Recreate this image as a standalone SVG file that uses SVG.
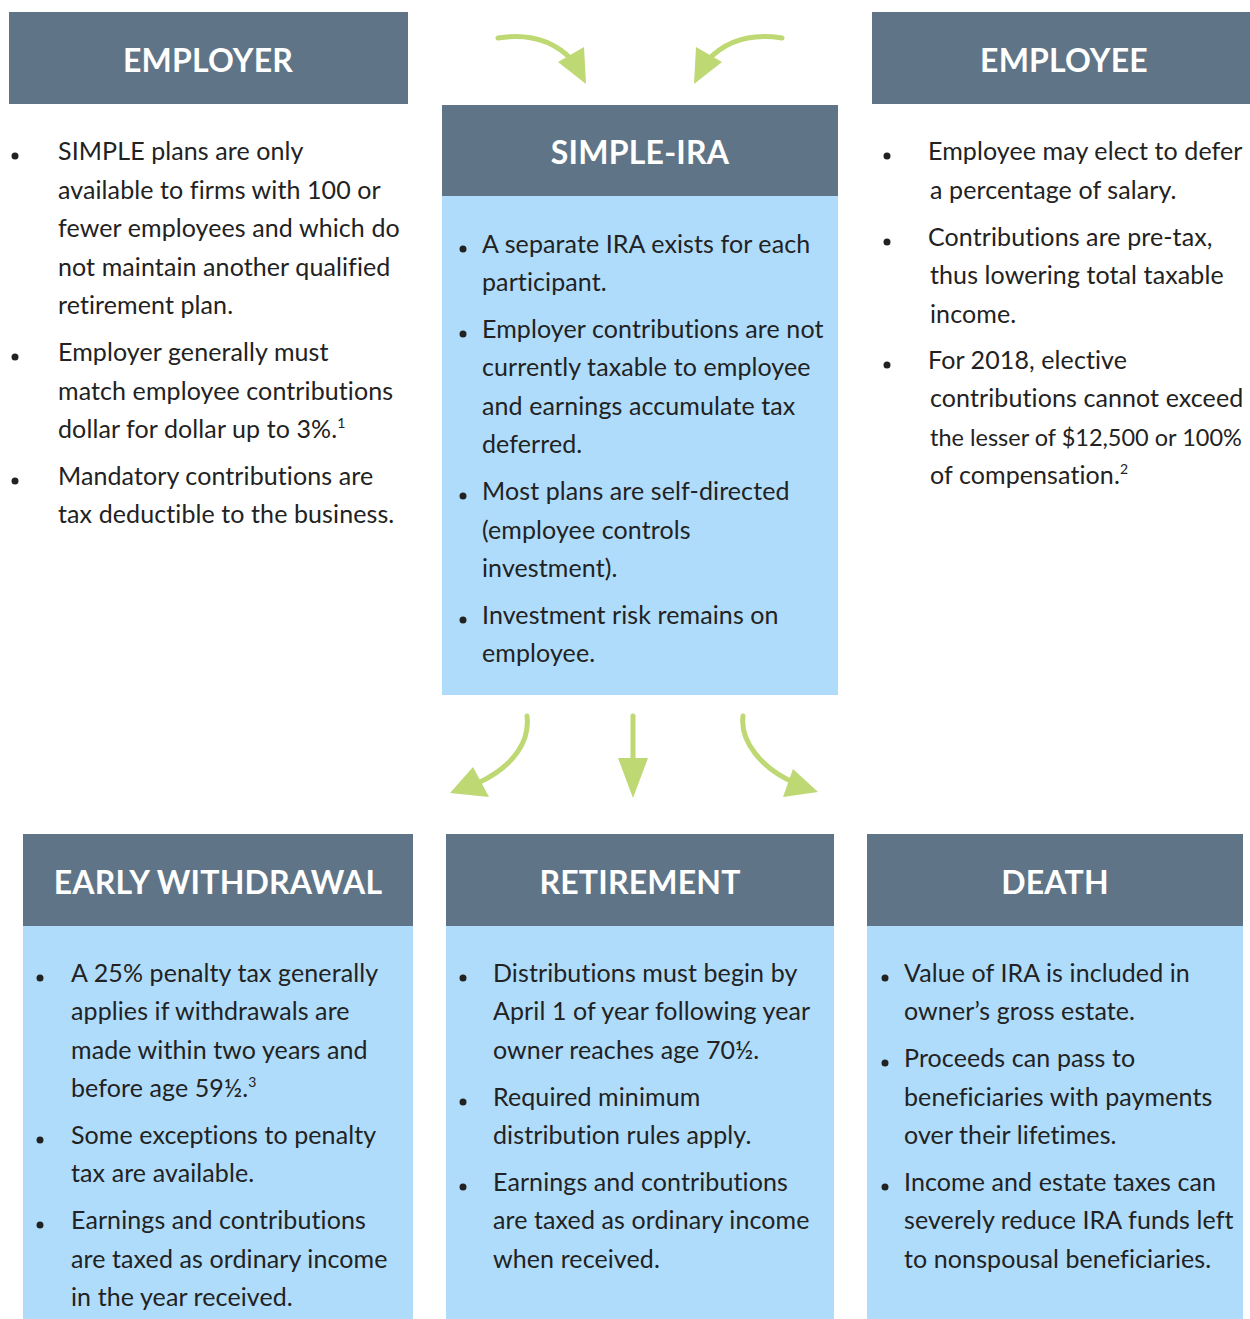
<svg xmlns="http://www.w3.org/2000/svg" width="1250" height="1319" viewBox="0 0 1250 1319">
<style>
.hd{fill:#5f7587}
.bd{fill:#afdcfb}
.tt{font-family:Lato,"Liberation Sans",sans-serif;font-weight:bold;font-size:32px;fill:#ffffff;text-anchor:middle;letter-spacing:0.2px}
.tx{font-family:Lato,"Liberation Sans",sans-serif;font-size:25px;letter-spacing:0.1px;fill:#222222}
.sup{font-size:14px}
.ar{fill:none;stroke:#bed873;stroke-width:5;stroke-linecap:round}
.ah{fill:#bed873}
</style>
<rect width="1250" height="1319" fill="#ffffff"/>
<g id="employer">
<rect class="hd" x="9" y="12" width="399" height="92"/>
<text class="tt" x="208" y="72">EMPLOYER</text>
<circle cx="15" cy="156" r="3.5" fill="#222"/>
<circle cx="15" cy="357" r="3.5" fill="#222"/>
<circle cx="15" cy="481" r="3.5" fill="#222"/>
<text class="tx" x="58" y="160">SIMPLE plans are only</text>
<text class="tx" x="58" y="199">available to firms with 100 or</text>
<text class="tx" x="58" y="237">fewer employees and which do</text>
<text class="tx" x="58" y="276">not maintain another qualified</text>
<text class="tx" x="58" y="314">retirement plan.</text>
<text class="tx" x="58" y="361">Employer generally must</text>
<text class="tx" x="58" y="400">match employee contributions</text>
<text class="tx" x="58" y="438">dollar for dollar up to 3%.<tspan class="sup" dy="-10">1</tspan></text>
<text class="tx" x="58" y="485">Mandatory contributions are</text>
<text class="tx" x="58" y="523">tax deductible to the business.</text>
</g>
<g id="simple-ira">
<rect class="hd" x="442" y="105" width="396" height="92"/>
<rect class="bd" x="442" y="196" width="396" height="499"/>
<text class="tt" x="640" y="164">SIMPLE-IRA</text>
<circle cx="463" cy="249" r="3.5" fill="#222"/>
<circle cx="463" cy="334" r="3.5" fill="#222"/>
<circle cx="463" cy="496" r="3.5" fill="#222"/>
<circle cx="463" cy="620" r="3.5" fill="#222"/>
<text class="tx" x="482" y="253">A separate IRA exists for each</text>
<text class="tx" x="482" y="291">participant.</text>
<text class="tx" x="482" y="338">Employer contributions are not</text>
<text class="tx" x="482" y="376">currently taxable to employee</text>
<text class="tx" x="482" y="415">and earnings accumulate tax</text>
<text class="tx" x="482" y="453">deferred.</text>
<text class="tx" x="482" y="500">Most plans are self-directed</text>
<text class="tx" x="482" y="539">(employee controls</text>
<text class="tx" x="482" y="577">investment).</text>
<text class="tx" x="482" y="624">Investment risk remains on</text>
<text class="tx" x="482" y="662">employee.</text>
</g>
<g id="employee">
<rect class="hd" x="872" y="12" width="378" height="92"/>
<text class="tt" x="1064" y="72">EMPLOYEE</text>
<circle cx="887" cy="156" r="3.5" fill="#222"/>
<circle cx="887" cy="242" r="3.5" fill="#222"/>
<circle cx="887" cy="365" r="3.5" fill="#222"/>
<text class="tx" x="928" y="160">Employee may elect to defer</text>
<text class="tx" x="930" y="199">a percentage of salary.</text>
<text class="tx" x="928" y="246">Contributions are pre-tax,</text>
<text class="tx" x="930" y="284">thus lowering total taxable</text>
<text class="tx" x="930" y="323">income.</text>
<text class="tx" x="928" y="369">For 2018, elective</text>
<text class="tx" x="930" y="407">contributions cannot exceed</text>
<text class="tx" x="930" y="446" style="font-size:23.5px;letter-spacing:0">the lesser of $12,500 or 100%</text>
<text class="tx" x="930" y="484">of compensation.<tspan class="sup" dy="-10">2</tspan></text>
</g>
<g id="early-withdrawal">
<rect class="hd" x="23" y="834" width="390" height="93"/>
<rect class="bd" x="23" y="926" width="390" height="393"/>
<text class="tt" x="218" y="894">EARLY WITHDRAWAL</text>
<circle cx="40" cy="978" r="3.5" fill="#222"/>
<circle cx="40" cy="1140" r="3.5" fill="#222"/>
<circle cx="40" cy="1225" r="3.5" fill="#222"/>
<text class="tx" x="71" y="982">A 25% penalty tax generally</text>
<text class="tx" x="71" y="1020">applies if withdrawals are</text>
<text class="tx" x="71" y="1059">made within two years and</text>
<text class="tx" x="71" y="1097">before age 59½.<tspan class="sup" dy="-10">3</tspan></text>
<text class="tx" x="71" y="1144">Some exceptions to penalty</text>
<text class="tx" x="71" y="1182">tax are available.</text>
<text class="tx" x="71" y="1229">Earnings and contributions</text>
<text class="tx" x="71" y="1268">are taxed as ordinary income</text>
<text class="tx" x="71" y="1306">in the year received.</text>
</g>
<g id="retirement">
<rect class="hd" x="446" y="834" width="388" height="93"/>
<rect class="bd" x="446" y="926" width="388" height="393"/>
<text class="tt" x="640" y="894">RETIREMENT</text>
<circle cx="463" cy="978" r="3.5" fill="#222"/>
<circle cx="463" cy="1102" r="3.5" fill="#222"/>
<circle cx="463" cy="1187" r="3.5" fill="#222"/>
<text class="tx" x="493" y="982">Distributions must begin by</text>
<text class="tx" x="493" y="1020">April 1 of year following year</text>
<text class="tx" x="493" y="1059">owner reaches age 70½.</text>
<text class="tx" x="493" y="1106">Required minimum</text>
<text class="tx" x="493" y="1144">distribution rules apply.</text>
<text class="tx" x="493" y="1191">Earnings and contributions</text>
<text class="tx" x="493" y="1229">are taxed as ordinary income</text>
<text class="tx" x="493" y="1268">when received.</text>
</g>
<g id="death">
<rect class="hd" x="867" y="834" width="376" height="93"/>
<rect class="bd" x="867" y="926" width="376" height="393"/>
<text class="tt" x="1055" y="894">DEATH</text>
<circle cx="885" cy="978" r="3.5" fill="#222"/>
<circle cx="885" cy="1063" r="3.5" fill="#222"/>
<circle cx="885" cy="1187" r="3.5" fill="#222"/>
<text class="tx" x="904" y="982">Value of IRA is included in</text>
<text class="tx" x="904" y="1020">owner’s gross estate.</text>
<text class="tx" x="904" y="1067">Proceeds can pass to</text>
<text class="tx" x="904" y="1106">beneficiaries with payments</text>
<text class="tx" x="904" y="1144">over their lifetimes.</text>
<text class="tx" x="904" y="1191">Income and estate taxes can</text>
<text class="tx" x="904" y="1229">severely reduce IRA funds left</text>
<text class="tx" x="904" y="1268">to nonspousal beneficiaries.</text>
</g>
<g id="connectors">
<path class="ar" d="M498 38 C530 33 555 42 572 60"/>
<polygon class="ah" points="584,47 558,62 586,84"/>
<path class="ar" d="M782 38 C750 33 725 42 708 60"/>
<polygon class="ah" points="696,47 722,62 694,84"/>
<path class="ar" d="M527 716 C530 740 515 765 480 782"/>
<polygon class="ah" points="473,767 489,797 450,793"/>
<path class="ar" d="M633 716 L633 765"/>
<polygon class="ah" points="618,758 648,758 633,798"/>
<path class="ar" d="M743 716 C740 740 760 768 795 783"/>
<polygon class="ah" points="793,769 783,797 818,792"/>
</g>
</svg>
